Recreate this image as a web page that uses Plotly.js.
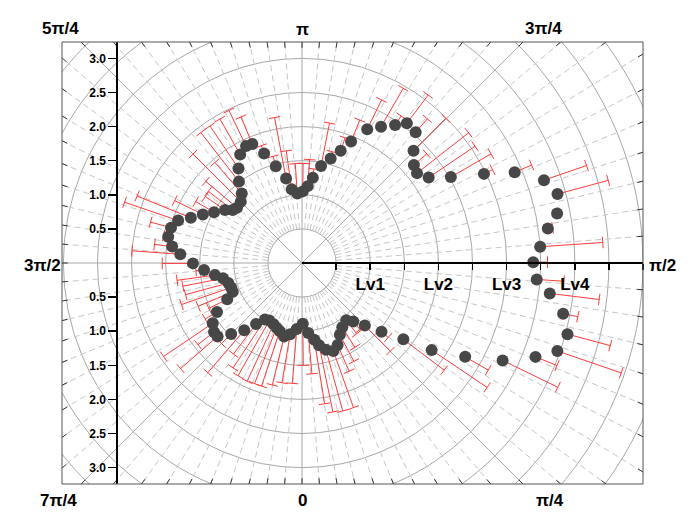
<!DOCTYPE html>
<html><head><meta charset="utf-8">
<script src="https://cdn.plot.ly/plotly-3.0.1.min.js"></script>
<style>body{margin:0;background:#fff;}</style>
</head><body>
<div id="chart" style="width:700px;height:519px;"></div>
<script>
// ---- data (angle in degrees, measured from bottom, counter-clockwise) ----
const thetaDeg = [0.7,5.1,9.1,11.7,15.4,19.6,23.5,27.8,32.1,37.7,41.2,45.1,49.2,53.0,56.1,60.1,64.1,68.1,71.0,75.0,
  79.0,83.0,86.0,90.2,93.9,98.0,101.0,105.1,108.9,113.1,116.1,120.0,124.0,128.0,131.2,135.2,139.0,143.1,146.0,149.9,
  154.0,158.0,161.0,164.7,168.9,172.8,175.8,179.4,183.9,188.0,190.7,195.2,199.1,202.7,205.6,209.7,213.9,217.8,220.9,225.0,
  229.7,232.6,235.5,240.0,243.9,247.9,251.1,254.9,258.9,262.8,265.9,270.2,274.1,277.9,281.0,285.2,289.0,292.6,295.9,300.0,
  304.0,308.1,311.0,315.0,319.3,323.0,326.7,330.4,335.1,338.5,341.8,346.3,350.5,355.4];
const radius = [0.89,1.03,1.14,1.23,1.32,1.37,1.31,1.19,1.11,1.06,1.14,1.30,1.54,1.86,2.29,2.76,3.27,3.69,3.96,4.03,
  3.90,3.66,3.45,3.39,3.50,3.64,3.81,3.88,3.75,3.39,2.97,2.52,2.24,2.14,2.18,2.32,2.54,2.56,2.44,2.31,
  2.18,1.92,1.74,1.59,1.45,1.26,1.13,1.05,1.02,1.09,1.26,1.47,1.70,1.89,1.90,1.83,1.67,1.51,1.35,1.27,
  1.25,1.28,1.37,1.49,1.62,1.76,1.92,1.99,2.00,1.92,1.79,1.60,1.44,1.29,1.18,1.12,1.10,1.10,1.22,1.44,
  1.58,1.64,1.64,1.47,1.30,1.12,0.99,0.97,0.99,1.02,1.05,1.11,1.06,0.97];
const errPlus = [0.61,0.60,0.95,1.00,0.93,0.88,0.42,0.44,0.35,0.25,0.15,0.53,0.13,0.75,0.98,0.39,0.90,0.34,0.99,0.65,
  0.22,0.73,0.40,0.21,0.92,0.07,0.03,0.77,0.66,0.27,0.14,0.68,0.82,0.96,0.25,0.67,0.26,0.52,0.16,0.65,
  0.48,0.34,0.20,0.10,0.64,0.13,0.39,0.41,0.44,0.57,0.91,0.15,0.12,0.43,0.58,0.60,0.75,0.91,0.60,0.99,
  0.60,0.45,0.35,0.31,0.46,0.85,0.83,0.31,0.07,0.26,0.71,0.45,0.12,0.56,0.60,0.65,0.77,0.55,0.30,0.20,
  0.87,0.30,0.72,0.20,0.82,0.55,0.85,0.93,0.92,0.88,0.85,0.73,0.72,0.80];

const levelTicks  = [0.5,1,1.5,2,2.5,3,3.5,4,4.5,5];
const levelLabels = ['','Lv1','','Lv2','','Lv3','','Lv4','',''];
const radialTicks  = [-3,-2.5,-2,-1.5,-1,-0.5,0.5,1,1.5,2,2.5,3];
const radialLabels = ['3.0','2.5','2.0','1.5','1.0','0.5','0.5','1.0','1.5','2.0','2.5','3.0'];
const angleLabels = ['5π/4','π','3π/4','3π/2','π/2','7π/4','0','π/4'];

// ---- layout geometry ----
const W = 700, H = 519, ML = 62, MR = 57, MT = 42, MB = 35;
const XR = [-3.52, 5.0], YR = [-3.24, 3.24];
const anglePos = [[60,28],[302,29],[543,28],[42,265],[662,265],[58,500],[302,500],[550,500]];
const pw = W-ML-MR, ph = H-MT-MB;
const toPaperX = p => (p-ML)/pw, toPaperY = p => 1-(p-MT)/ph;
const bold = s => s ? '<b>'+s+'</b>' : '';

function pol(r, deg){ const a = deg*Math.PI/180; return [r*Math.sin(a), -r*Math.cos(a)]; }

// grid spokes
const dashX=[],dashY=[],solX=[],solY=[],tkX=[],tkY=[];
for(let k=0;k<80;k++){
  const d = k*4.5;
  const [ux,uy] = pol(1,d);
  if(k%10===0){
    if(k!==20){ solX.push(0, ux*8, null); solY.push(0, uy*8, null); }
  } else {
    dashX.push(ux*0.5, ux*8, null); dashY.push(uy*0.5, uy*8, null);
  }
  let t = Infinity;
  if(ux>1e-9) t=Math.min(t, XR[1]/ux); if(ux<-1e-9) t=Math.min(t, XR[0]/ux);
  if(uy>1e-9) t=Math.min(t, YR[1]/uy); if(uy<-1e-9) t=Math.min(t, YR[0]/uy);
  tkX.push(ux*(t-0.085), ux*t, null); tkY.push(uy*(t-0.085), uy*t, null);
}

// points & error bars
const mx=[],my=[],ex=[],ey=[];
const capHalf = 0.085;
for(let i=0;i<thetaDeg.length;i++){
  const [x0,y0] = pol(radius[i], thetaDeg[i]);
  const [x1,y1] = pol(radius[i]+errPlus[i], thetaDeg[i]);
  mx.push(x0); my.push(y0);
  ex.push(x0,x1,null); ey.push(y0,y1,null);
  const a = thetaDeg[i]*Math.PI/180, cx = Math.cos(a), cy = Math.sin(a);
  ex.push(x1-cx*capHalf, x1+cx*capHalf, null); ey.push(y1-cy*capHalf, y1+cy*capHalf, null);
}

const shapes = [];
for(let r=0.5;r<=6.01;r+=0.5){
  shapes.push({type:'circle',xref:'x',yref:'y',x0:-r,x1:r,y0:-r,y1:r,line:{color:'#a8a8a8',width:1},layer:'below'});
}
shapes.push({type:'rect',xref:'paper',yref:'paper',x0:0,x1:1,y0:0,y1:1,line:{color:'#555',width:1},layer:'above'});

const FONT = 'Liberation Sans, Arial, sans-serif';
const annotations = angleLabels.map((t,i)=>({
  text:bold(t), xref:'paper', yref:'paper', x:toPaperX(anglePos[i][0]), y:toPaperY(anglePos[i][1]),
  xanchor:'center', yanchor:'middle', showarrow:false,
  font:{family:FONT,size:17,color:'#000'}
}));

const traces = [
  {x:dashX,y:dashY,mode:'lines',line:{color:'#c6c6c6',width:1,dash:'6px,4px'},hoverinfo:'skip',showlegend:false},
  {x:solX,y:solY,mode:'lines',line:{color:'#a8a8a8',width:1},hoverinfo:'skip',showlegend:false},
  {x:tkX,y:tkY,mode:'lines',line:{color:'#333',width:1},hoverinfo:'skip',showlegend:false},
  {x:ex,y:ey,mode:'lines',line:{color:'#ff3c3c',width:1},hoverinfo:'skip',showlegend:false},
  {x:mx,y:my,mode:'markers',marker:{size:12,color:'#474747'},showlegend:false},
  {x:[1],y:[0],xaxis:'x2',yaxis:'y',mode:'markers',marker:{opacity:0},hoverinfo:'skip',showlegend:false}
];

const c = -XR[0]/(XR[1]-XR[0]);
const layout = {
  width:W, height:H, margin:{l:ML,r:MR,t:MT,b:MB},
  paper_bgcolor:'#fff', plot_bgcolor:'rgba(0,0,0,0)', showlegend:false,
  font:{family:FONT,color:'#000'},
  xaxis:{range:XR, visible:false, fixedrange:true},
  yaxis:{range:YR, anchor:'free', position:(-2.708-XR[0])/(XR[1]-XR[0]),
    showgrid:false, zeroline:false, showline:true, linecolor:'#000', linewidth:2,
    ticks:'outside', ticklen:8, tickwidth:1.5, tickcolor:'#000',
    tickmode:'array', tickvals:radialTicks, ticktext:radialLabels.map(bold),
    tickfont:{family:FONT,size:12,color:'#000'}, fixedrange:true},
  xaxis2:{domain:[c,1], range:[0,XR[1]], anchor:'free', position:0.5, side:'bottom',
    showgrid:false, zeroline:false, showline:true, linecolor:'#000', linewidth:2,
    ticks:'outside', ticklen:6, tickwidth:1.5, tickcolor:'#000',
    tickmode:'array', tickvals:levelTicks, ticktext:levelLabels.map(bold),
    tickfont:{family:FONT,size:17,color:'#000'}, layer:'below traces', fixedrange:true},
  shapes:shapes, annotations:annotations
};
Plotly.newPlot('chart', traces, layout, {displayModeBar:false, staticPlot:true});
</script>
</body></html>
